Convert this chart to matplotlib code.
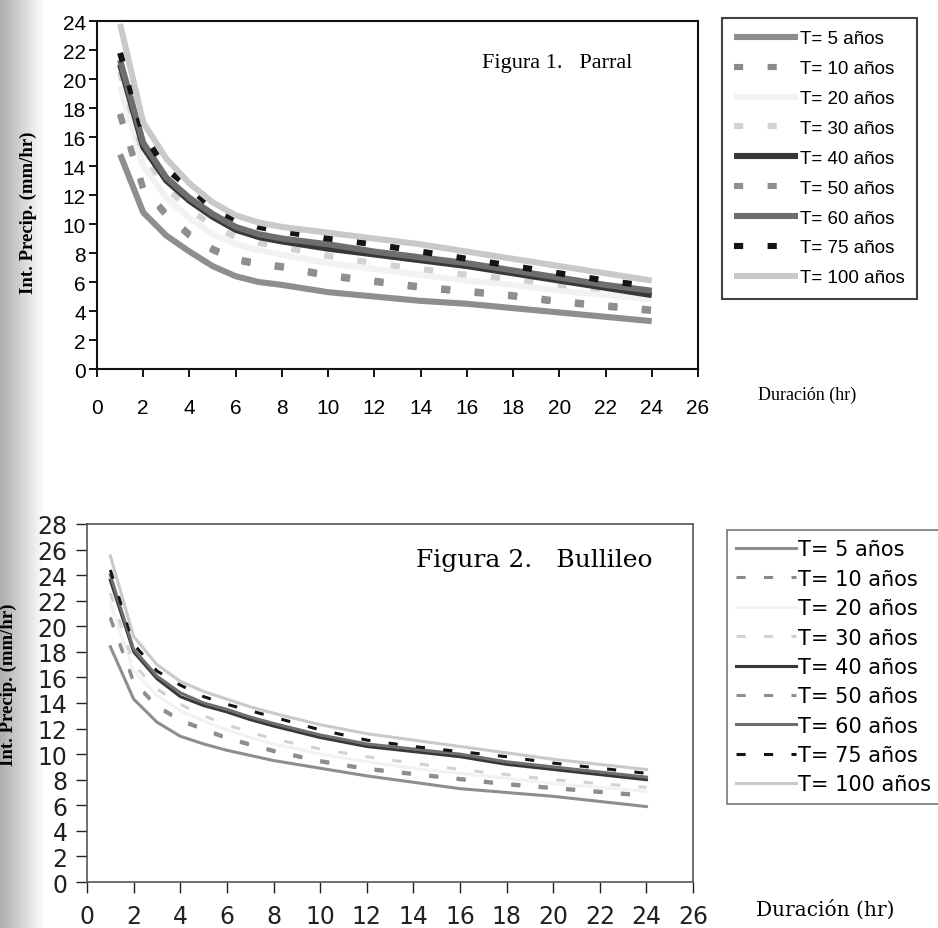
import matplotlib
matplotlib.use("Agg")
import matplotlib.pyplot as plt
import numpy as np

# duration (hr) and return periods
durations = [1, 2, 3, 4, 5, 6, 7, 8, 10, 12, 14, 16, 18, 20, 22, 24]
periods = [5, 10, 20, 30, 40, 50, 60, 75, 100]

# Figura 1. Parral - intensity (mm/hr)
parral_t5 = [14.8, 10.8, 9.2, 8.1, 7.1, 6.4, 6.0, 5.8, 5.3, 5.0, 4.7, 4.5, 4.2, 3.9, 3.6, 3.3]
parral_t10 = [17.5, 12.4, 10.6, 9.2, 8.2, 7.5, 7.2, 7.0, 6.4, 6.0, 5.6, 5.3, 5.0, 4.6, 4.3, 4.0]
parral_t20 = [19.5, 14.0, 11.8, 10.4, 9.3, 8.6, 8.2, 7.9, 7.3, 6.9, 6.5, 6.1, 5.8, 5.4, 5.1, 4.8]
parral_t30 = [20.5, 14.8, 12.5, 11.0, 9.9, 9.1, 8.7, 8.4, 7.8, 7.3, 6.9, 6.5, 6.2, 5.8, 5.5, 5.2]
parral_t40 = [21.0, 15.3, 13.0, 11.6, 10.5, 9.6, 9.1, 8.8, 8.3, 7.9, 7.5, 7.1, 6.6, 6.1, 5.6, 5.1]
parral_t50 = [17.6, 12.5, 10.7, 9.3, 8.3, 7.6, 7.3, 7.1, 6.5, 6.1, 5.7, 5.4, 5.1, 4.7, 4.4, 4.1]
parral_t60 = [21.3, 15.6, 13.2, 11.8, 10.7, 9.8, 9.3, 9.0, 8.6, 8.1, 7.7, 7.3, 6.8, 6.3, 5.8, 5.4]
parral_t75 = [21.8, 16.2, 13.8, 12.5, 11.1, 10.3, 9.8, 9.5, 9.0, 8.6, 8.1, 7.6, 7.1, 6.6, 6.1, 5.7]
parral_t100 = [23.8, 17.0, 14.5, 12.8, 11.5, 10.6, 10.1, 9.8, 9.4, 9.0, 8.6, 8.1, 7.6, 7.1, 6.6, 6.1]

# Figura 2. Bullileo - intensity (mm/hr)
bullileo_t5 = [18.4, 14.3, 12.5, 11.4, 10.8, 10.3, 9.9, 9.5, 8.9, 8.3, 7.8, 7.3, 7.0, 6.7, 6.3, 5.9]
bullileo_t10 = [20.6, 15.6, 13.7, 12.6, 11.9, 11.2, 10.7, 10.2, 9.4, 8.8, 8.4, 8.0, 7.6, 7.3, 7.0, 6.7]
bullileo_t20 = [21.8, 16.5, 14.6, 13.4, 12.6, 11.9, 11.3, 10.8, 10.0, 9.4, 8.9, 8.5, 8.1, 7.7, 7.4, 7.1]
bullileo_t30 = [22.6, 17.0, 15.1, 13.9, 13.0, 12.3, 11.7, 11.2, 10.4, 9.8, 9.3, 8.8, 8.4, 8.0, 7.7, 7.4]
bullileo_t40 = [23.6, 18.0, 15.9, 14.5, 13.8, 13.3, 12.7, 12.2, 11.3, 10.6, 10.2, 9.8, 9.2, 8.8, 8.4, 8.0]
bullileo_t50 = [20.7, 15.7, 13.8, 12.7, 12.0, 11.3, 10.8, 10.3, 9.5, 8.9, 8.5, 8.1, 7.7, 7.4, 7.1, 6.8]
bullileo_t60 = [24.0, 18.2, 16.1, 14.8, 14.0, 13.5, 12.9, 12.4, 11.5, 10.8, 10.4, 10.0, 9.4, 9.0, 8.6, 8.2]
bullileo_t75 = [24.4, 18.6, 16.5, 15.4, 14.5, 13.9, 13.4, 12.9, 11.9, 11.1, 10.6, 10.2, 9.8, 9.3, 8.9, 8.5]
bullileo_t100 = [25.5, 19.2, 17.0, 15.7, 14.9, 14.3, 13.7, 13.2, 12.3, 11.6, 11.1, 10.6, 10.1, 9.6, 9.2, 8.8]

parral = [parral_t5, parral_t10, parral_t20, parral_t30, parral_t40,
          parral_t50, parral_t60, parral_t75, parral_t100]
bullileo = [bullileo_t5, bullileo_t10, bullileo_t20, bullileo_t30, bullileo_t40,
            bullileo_t50, bullileo_t60, bullileo_t75, bullileo_t100]

colors = ["#8e8e8e", "#8a8a8a", "#f2f2f2", "#d2d2d2", "#383838",
          "#8f8f8f", "#6e6e6e", "#141414", "#c9c9c9"]
solid = "-"
top_dash = (0, (1.5, 4))
bot_dash = (0, (3, 6))
top_styles = [solid, top_dash, solid, top_dash, solid, top_dash, solid, top_dash, solid]
bot_styles = [solid, bot_dash, solid, bot_dash, solid, bot_dash, solid, bot_dash, solid]

sans = ["Liberation Sans", "DejaVu Sans"]
serif = ["Liberation Serif", "DejaVu Serif"]
wide_serif = ["DejaVu Serif"]

fig = plt.figure(figsize=(9.38, 9.29), dpi=100)

# scanned page shadow along the left edge
bg = fig.add_axes([0, 0, 1, 1], zorder=-10)
shade = np.linspace(0.68, 1.0, 45)
shade = np.concatenate([shade, np.ones(893)])
bg.imshow(np.tile(shade, (20, 1)), cmap="gray", vmin=0, vmax=1, aspect="auto",
          extent=[0, 1, 0, 1])
bg.set_axis_off()

# ---- Figura 1. Parral ----
ax1 = fig.add_axes([0.1034, 0.6017, 0.6407, 0.3746])
for i, p in enumerate(periods):
    ax1.plot(durations, parral[i], color=colors[i], linestyle=top_styles[i],
             lw=4.4, label=f"T= {p} años", solid_capstyle="butt")
ax1.set_xlim(0, 26)
ax1.set_ylim(0, 24)
ax1.set_xticks(range(0, 27, 2))
ax1.set_yticks(range(0, 25, 2))
ax1.tick_params(direction="out", length=6, width=1.3, labelsize=15)
ax1.tick_params(axis="x", pad=15)
ax1.tick_params(axis="y", pad=2)
for lab in ax1.get_xticklabels() + ax1.get_yticklabels():
    lab.set_family(sans)
for s in ax1.spines.values():
    s.set_linewidth(1.5)
    s.set_color("#111111")
ax1.text(0.765, 0.88, "Figura 1.   Parral", transform=ax1.transAxes, ha="center",
         va="center", family=serif, fontsize=16)
leg1 = ax1.legend(loc="upper left", bbox_to_anchor=(0.7697, 0.9795),
                  bbox_transform=fig.transFigure, borderaxespad=0, fancybox=False,
                  frameon=True, edgecolor="#111111", handlelength=3.4,
                  handletextpad=0.1, labelspacing=0.68, borderpad=0.65,
                  prop={"family": sans, "size": 13.5})
leg1.get_frame().set_linewidth(1.5)
fig.text(807 / 938, 1 - 395 / 929, "Duración (hr)", ha="center", va="center",
         family=serif, fontsize=13)
fig.text(28 / 938, 1 - 213 / 929, "Int. Precip. (mm/hr)", ha="center", va="center",
         rotation=90, family=serif, fontsize=13.5, fontweight="bold")

# ---- Figura 2. Bullileo ----
ax2 = fig.add_axes([0.0928, 0.0495, 0.6461, 0.3854])
for i, p in enumerate(periods):
    ax2.plot(durations, bullileo[i], color=colors[i], linestyle=bot_styles[i],
             lw=2.2, label=f"T= {p} años")
ax2.set_xlim(0, 26)
ax2.set_ylim(0, 28)
ax2.set_xticks(range(0, 27, 2))
ax2.set_yticks(range(0, 29, 2))
ax2.tick_params(direction="out", length=8, width=1.0, labelsize=17, colors="#222222")
ax2.tick_params(axis="x", pad=8)
ax2.tick_params(axis="y", pad=6)
for s in ax2.spines.values():
    s.set_linewidth(1.2)
    s.set_color("#555555")
ax2.text(0.738, 0.902, "Figura 2.   Bullileo", transform=ax2.transAxes, ha="center",
         va="center", family=wide_serif, fontsize=18)
leg2 = ax2.legend(loc="upper left", bbox_to_anchor=(0.775, 0.4284),
                  bbox_transform=fig.transFigure, borderaxespad=0, fancybox=False,
                  frameon=True, edgecolor="#555555", handlelength=2.85,
                  handletextpad=0.1, labelspacing=0.45, borderpad=0.45,
                  prop={"family": "DejaVu Sans", "size": 15})
leg2.get_frame().set_linewidth(1.2)
fig.text(825 / 938, 1 - 910 / 929, "Duración (hr)", ha="center", va="center",
         family=wide_serif, fontsize=14.5)
fig.text(8 / 938, 1 - 685 / 929, "Int. Precip. (mm/hr)", ha="center", va="center",
         rotation=90, family=serif, fontsize=13.5, fontweight="bold")

fig.savefig("out.png", dpi=100)
